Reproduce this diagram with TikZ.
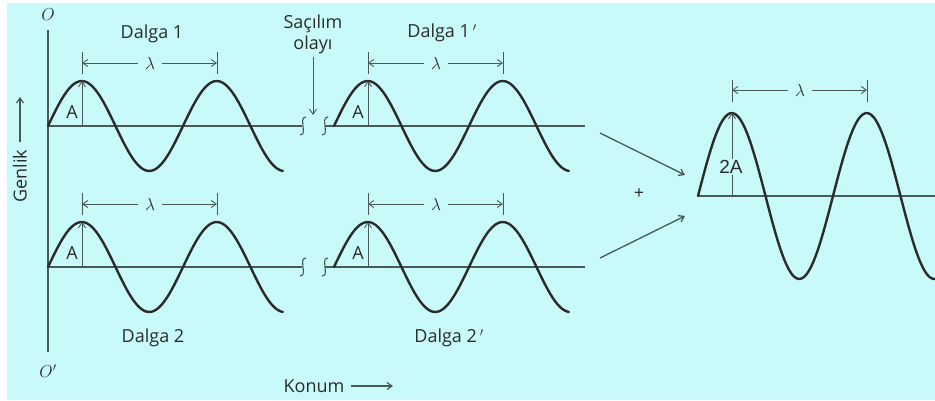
\documentclass[tikz,border=0pt]{standalone}
\usepackage{fontspec}
\setmainfont{Open Sans}
\newfontfamily\helv{Liberation Sans}
\usetikzlibrary{arrows.meta}
\definecolor{figBg}{HTML}{C8FAFA}
\definecolor{figInk}{HTML}{2B2B2B}
\definecolor{figAxis}{HTML}{4A5858}

\begin{document}
\begin{tikzpicture}[
  x=1pt, y=-1pt,
  wave/.style={line width=2.4pt, draw=figInk, line cap=round},
  axis/.style={line width=1.4pt, draw=figAxis},
  dim/.style={line width=0.9pt, draw=figAxis},
  arr/.style={-{Straight Barb[length=5pt,width=7pt]}, line width=0.9pt, draw=figAxis},
  lbl/.style={font=\fontsize{18}{21}\selectfont, text=figInk, inner sep=1pt},
  lam/.style={font=\fontsize{17}{19}\selectfont, text=figInk, inner sep=1pt},
  brk/.pic={\draw[axis, line width=1.1pt] (3,-9) .. controls (-2,-9) and (0,-3) .. (0,0)
    .. controls (0,3) and (2,9) .. (-3,9);},
]

% === Background ===
\fill[white] (0,0) rectangle (935,400);
\fill[figBg] (7,3) rectangle (935,400);
\useasboundingbox (0,0) rectangle (935,400);

% === Axes ===
\node[lbl, font=\fontsize{17}{20}\selectfont] (O) at (48,15) {$O$};
\node[lbl, font=\fontsize{17}{20}\selectfont] (Op) at (48,371) {$O'$};
\draw[axis] (48,30) -- (48,352);

\node[lbl, rotate=90] (genlik) at (20,176) {Genlik};
\coordinate (genlikTip) at (20,97);
\draw[arr, line width=1.2pt] ([yshift=6pt]genlik.east) -- (genlikTip);

\node[lbl] (konum) at (314,386) {Konum};
\coordinate (konumTip) at (393,386);
\draw[arr, line width=1.2pt] ([xshift=5pt]konum.east) -- (konumTip);

% === Baselines with break marks ===
\foreach \y in {126,267} {
  \draw[axis] (48,\y) -- (302,\y);
  \draw[axis] (325,\y) -- (585,\y);
  \pic at (303,\y) {brk};
  \pic at (325,\y) {brk};
}

% === Four incoming waves ===
\foreach \x/\y/\n in {48/126/a, 334/126/b, 48/267/c, 334/267/d} {
  \draw[wave, variable=\t] plot[domain=0:1.74, samples=90, smooth]
    ({\x+135*\t}, {\y-45*sin(360*\t)});
  \coordinate (base\n) at (\x+34,\y);
  \coordinate (peak\n) at (\x+34,\y-45);
  \draw[arr] (base\n) -- (peak\n);
  \node[lbl] (amp\n) at (\x+24,\y-14) {A};
  % wavelength
  \draw[dim] (\x+34,\y-74) -- (\x+34,\y-52);
  \draw[dim] (\x+169,\y-74) -- (\x+169,\y-52);
  \coordinate (lamL\n) at (\x+34,\y-63);
  \coordinate (lamR\n) at (\x+169,\y-63);
  \node[lam] (lam\n) at (\x+102,\y-63) {$\lambda$};
  \draw[arr] ([xshift=-6pt]lam\n.west) -- (lamL\n);
  \draw[arr] ([xshift=6pt]lam\n.east) -- (lamR\n);
}

% === Labels ===
\node[lbl] (d1) at (152,34) {Dalga 1};
\node[lbl] (d1p) at (442,33) {Dalga 1$\,'$};
\node[lbl] (d2) at (153,338) {Dalga 2};
\node[lbl] (d2p) at (449,338) {Dalga 2$\,'$};

\node[lbl, align=center] (sac) at (313,34) {Saçılım\\olayı};
\coordinate (sacTip) at (313,115);
\draw[arr] ([yshift=-2pt]sac.south) -- (sacTip);

% === Superposition ===
\coordinate (inA) at (600,133);
\coordinate (outA) at (685,175);
\coordinate (inB) at (600,258);
\coordinate (outB) at (685,216);
\draw[arr, line width=1.3pt] (inA) -- (outA);
\draw[arr, line width=1.3pt] (inB) -- (outB);
\node[lbl, font=\helv\fontsize{17}{19}\selectfont] (plus) at (639,194) {+};

\draw[axis] (698,196) -- (935,196);
\draw[wave, variable=\t] plot[domain=0:1.755, samples=90, smooth]
  ({698+135*\t}, {196-83*sin(360*\t)});
\coordinate (baseS) at (732,196);
\coordinate (peakS) at (732,113);
\draw[arr] (baseS) -- (peakS);
\node[lbl, font=\helv\fontsize{19}{21}\selectfont, fill=figBg] (ampS) at (731,167) {2A};
\draw[dim] (732,80) -- (732,102);
\draw[dim] (867,80) -- (867,102);
\coordinate (lamLS) at (732,90);
\coordinate (lamRS) at (867,90);
\node[lam] (lamS) at (800,90) {$\lambda$};
\draw[arr] ([xshift=-6pt]lamS.west) -- (lamLS);
\draw[arr] ([xshift=6pt]lamS.east) -- (lamRS);

\end{tikzpicture}
\end{document}
